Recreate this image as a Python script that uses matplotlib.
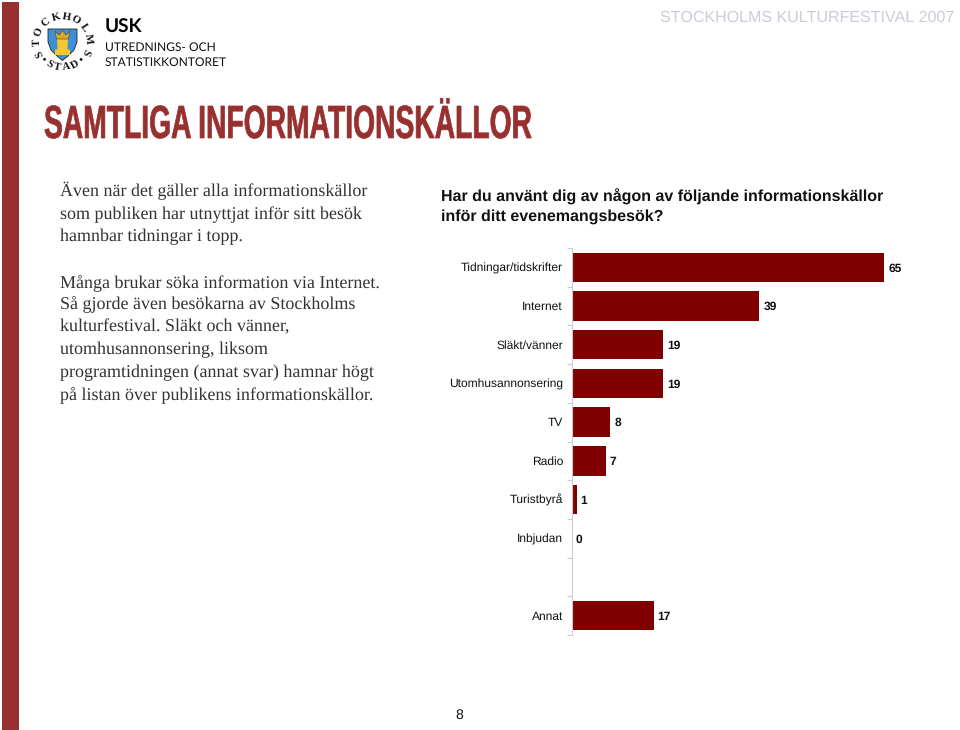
import numpy as np
import matplotlib
matplotlib.use('Agg')
import matplotlib.pyplot as plt
from matplotlib.patches import Rectangle, Polygon
from matplotlib.patheffects import AbstractPathEffect
from matplotlib.transforms import Affine2D

plt.rcParams['text.hinting'] = 'no_hinting'
plt.rcParams['text.hinting_factor'] = 1

W, H = 960, 730
categories = ['Tidningar/tidskrifter', 'Internet', 'Släkt/vänner', 'Utomhusannonsering',
              'TV', 'Radio', 'Turistbyrå', 'Inbjudan', '', 'Annat']
values = [65, 39, 19, 19, 8, 7, 1, 0, None, 17]
body_lines = [
    (196, 'Även när det gäller alla informationskällor'),
    (219, 'som publiken har utnyttjat inför sitt besök'),
    (241, 'hamnbar tidningar i topp.'),
    (287, 'Många brukar söka information via Internet.'),
    (308.5, 'Så gjorde även besökarna av Stockholms'),
    (331.5, 'kulturfestival. Släkt och vänner,'),
    (354, 'utomhusannonsering, liksom'),
    (377, 'programtidningen (annat svar) hamnar högt'),
    (399, 'på listan över publikens informationskällor.'),
]
question = ['Har du använt dig av någon av följande informationskällor', 'inför ditt evenemangsbesök?']
BAR = '#800000'; RED = '#97302e'


class Squeeze(AbstractPathEffect):
    """Condense text horizontally about x0 (pixels) and thicken it slightly."""
    def __init__(self, sx, x0, lw):
        super().__init__()
        self.sx, self.x0, self.lw = sx, x0, lw

    def draw_path(self, renderer, gc, tpath, affine, rgbFace):
        a = affine + Affine2D().translate(-self.x0, 0).scale(self.sx, 1).translate(self.x0, 0)
        g = renderer.new_gc()
        g.copy_properties(gc)
        g.set_linewidth(self.lw)
        g.set_foreground(rgbFace)
        renderer.draw_path(g, tpath, a, rgbFace)
        g.restore()


fig = plt.figure(figsize=(W/100, H/100), dpi=100, facecolor='white')
def T(x, y, s, **k):
    k.setdefault('va', 'baseline'); k.setdefault('ha', 'left')
    return fig.text(x/W, 1-y/H, s, **k)

fig.patches.append(Rectangle((2/W, 0), 17/W, 1-2/H, transform=fig.transFigure, fc=RED, ec='none'))

# Chart
left, right, top, bottom = 572, 940, 248, 635
ax = fig.add_axes([left/W, 1-bottom/H, (right-left)/W, (bottom-top)/H])
ax.set_ylim(len(categories)-0.5, -0.5)
ax.set_xlim(0, (right-left)/4.805)
for i, (c, v) in enumerate(zip(categories, values)):
    if v is None:
        continue
    ax.barh(i, v, height=0.76, color=BAR, edgecolor='none')
    ax.annotate(str(v), (v, i), xytext=(2.8, -3), textcoords='offset points', va='baseline', ha='left',
                fontsize=8.6, fontweight='bold', family='Liberation Sans', color='#111111')
ax.set_yticks(np.arange(len(categories)+1)-0.5)
ax.set_yticklabels([])
ax.tick_params(axis='y', length=3.5, width=0.8, color='#c4ced4', direction='out')
ax.set_xticks([])
for s in ['top', 'right', 'bottom']:
    ax.spines[s].set_visible(False)
ax.spines['left'].set_color('#c4ced4')
ax.patch.set_alpha(0)
for i, c in enumerate(categories):
    if c:
        ax.annotate(c, (0, i), xytext=(-6.5, -3), textcoords='offset points', ha='right', va='baseline',
                    fontsize=8.5, family='Liberation Sans', color='#111111')

# Texts
title = T(44, 138, 'SAMTLIGA INFORMATIONSKÄLLOR', family='Liberation Sans', fontsize=33.5,
          fontweight='bold', color=RED)
fig.canvas.draw()
tw = title.get_window_extent(fig.canvas.get_renderer()).width
title.set_path_effects([Squeeze(493/tw, 44, 0.5)])
T(660.5, 22, 'STOCKHOLMS KULTURFESTIVAL 2007', family='Liberation Sans', fontsize=11.8, color='#c9ced6')
for yy, s in body_lines:
    T(60, yy, s, family='Liberation Serif', fontsize=13.05, color='#333333')
T(441, 202, question[0], family='Liberation Sans', fontsize=11.4, fontweight='bold', color='#111111')
T(441, 221, question[1], family='Liberation Sans', fontsize=11.4, fontweight='bold', color='#111111')
T(455, 719, '8', family='Liberation Sans', fontsize=10, color='#111111')

# Logo
T(105, 33, 'USK', family='Lato', fontsize=14, fontweight='bold', color='black')
T(105, 50.5, 'UTREDNINGS- OCH', family='Lato', fontsize=8.7, color='#111111')
T(105, 66, 'STATISTIKKONTORET', family='Lato', fontsize=8.55, color='#111111')
lx, ly, r = 62.5, 42, 25.5
def poly(pts, **k):
    fig.patches.append(Polygon([(a/W, 1-b/H) for a, b in pts], transform=fig.transFigure, **k))
poly([(48, 29), (77, 29), (77, 42), (74, 50), (68, 56), (62.5, 60.5), (57, 56), (51, 50), (48, 42)],
     fc='#3f8fd8', ec='#222222', lw=0.6)
poly([(57, 38), (68, 38), (67.5, 49), (70, 50), (70, 55), (55, 55), (55, 50), (57.5, 49)], fc='#f2c82e', ec='none')
poly([(55, 31), (59, 35), (62.5, 30.5), (66, 35), (70, 31), (68.5, 39), (56.5, 39)],
     fc='#d9a92a', ec='#444444', lw=0.4)
for ch, a in zip('STOCKHOLMS', [206, 182, 158, 131, 105, 80, 59, 34, 8, -24]):
    t = np.deg2rad(a)
    T(lx+r*np.cos(t), ly-r*np.sin(t), ch, family='Liberation Serif', fontsize=8, fontweight='bold',
      ha='center', va='center', rotation=a-90, rotation_mode='anchor', color='#111111')
for ch, a in zip('•STAD•', [222, 239, 258, 279, 299, 318]):
    t = np.deg2rad(a)
    T(lx+r*np.cos(t), ly-r*np.sin(t), ch, family='Liberation Serif', fontsize=8, fontweight='bold',
      ha='center', va='center', rotation=a+90, rotation_mode='anchor', color='#111111')

fig.savefig('out.png', dpi=100, facecolor='white')
